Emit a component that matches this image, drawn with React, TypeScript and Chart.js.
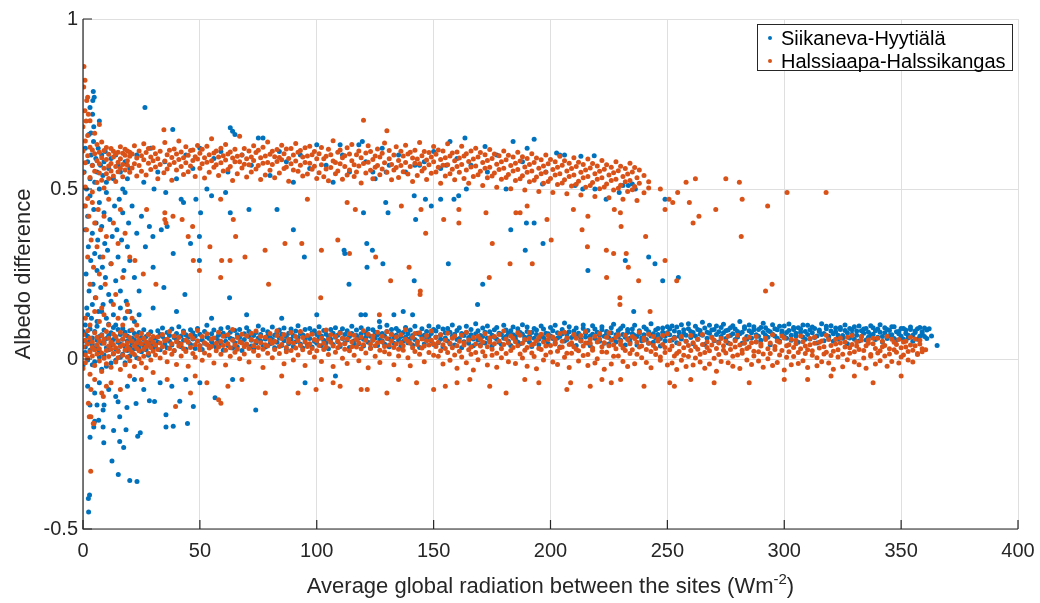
import React, { useEffect, useRef } from 'react';
import Chart from 'chart.js/auto';

// each row: [x, y1, y2, ...] = points sharing one x value
type Row = number[];

const seriesNames = ['Siikaneva-Hyytiälä', 'Halssiaapa-Halssikangas'];
const seriesColors = ['#0072BD', '#D95319'];
const xTicks = [0, 50, 100, 150, 200, 250, 300, 350, 400];
const yTicks = [-0.5, 0, 0.5, 1];
const xTitle = 'Average global radiation between the sites (Wm';
const xTitleSup = '-2';
const yTitle = 'Albedo difference';

// Siikaneva-Hyytiälä, band just above zero
const blueBand: Row[] = [
  [0,.052,-.02,.081],[1,.019,.074,.035],[2,.067,-.003,.048],[3,.059,.026,.088],[4,-.017,.043,.062],[5,.031,.081,-.008],[6,.055,.038,.096],[7,.066,.022,.006],[8,.046,-.03,.071],[9,.051,.012,.085],[10,.06,.033,-.021],[11,.069,.027,.102],[12,.041,-.012,.077],[13,.093,.015,.057],[14,.029,.064,-.004],[15,.049,.087,.024],[16,.044,.072,.005],[17,.014,.058,.09],[18,.037,.079,-.011],[19,.053,.025,.068],[20,.035,.083,.009],[21,.047,.061,.018],[22,.03,.075,.056],[23,.04,.07,.004],[24,.05,.032,.078],[25,.021,.063,.045],[26,.058,.039,.086],[27,.027,.066,.049],[28,.073,.042,.011],[29,.054,.08,.036],[30,.062,.031,.047],
  [31,.061,.038],[32,.083,.049],[33,.072,.027],[34,.066,.091],[35,.044,.057],[36,.078,.033],[37,.069,.052],[38,.088,.041],[39,.063,.024],[40,.075,.058],[41,.047,.095],[42,.036,.068],[43,.055,.082],[44,.029,.071],[45,.05,.064],[46,.086,.043],[47,.059,.077],[48,.031,.067],[49,.053,.09],[50,.039,.073],[51,.056,.028],[52,.081,.046],[53,.065,.099],[54,.037,.06],[55,.074,.051],[56,.042,.085],[57,.062,.034],[58,.07,.054],[59,.089,.045],[60,.076,.026],[61,.067,.052],[62,.093,.04],[63,.061,.079],[64,.032,.058],[65,.084,.048],[66,.071,.036],[67,.063,.087],[68,.05,.025],[69,.074,.057],[70,.092,.043],[71,.066,.081],[72,.038,.055],[73,.069,.03],[74,.078,.047],[75,.062,.097],[76,.053,.072],[77,.041,.086],[78,.059,.035],[79,.068,.08],[80,.045,.064],[81,.057,.094],[82,.033,.07],[83,.079,.049],[84,.062,.085],[85,.04,.073],[86,.091,.054],[87,.028,.066],[88,.076,.045],[89,.058,.088],[90,.037,.069],[91,.082,.051],[92,.063,.098],[93,.044,.075],[94,.071,.032],[95,.056,.087],[96,.067,.042],[97,.09,.06],[98,.035,.077],[99,.052,.083],[100,.072,.046],
  [101,.061,.095],[102,.039,.068],[103,.084,.055],[104,.048,.073],[105,.066,.03],[106,.087,.058],[107,.043,.076],[108,.064,.092],[109,.051,.07],[110,.079,.037],[111,.06,.089],[112,.047,.072],[113,.083,.056],[114,.034,.066],[115,.075,.096],[116,.054,.041],[117,.069,.085],[118,.045,.061],[119,.092,.074],[120,.058,.038],[121,.077,.064],[122,.049,.088],[123,.067,.032],[124,.086,.055],[125,.062,.079],[126,.04,.071],[127,.094,.057],[128,.053,.075],[129,.068,.044],[130,.081,.099],[131,.059,.036],[132,.073,.087],[133,.046,.063],[134,.09,.07],[135,.055,.082],[136,.037,.066],[137,.078,.052],[138,.064,.093],[139,.048,.074],[140,.085,.06],[141,.069,.041],[142,.096,.057],[143,.052,.076],[144,.073,.034],[145,.063,.089],[146,.044,.07],[147,.081,.058],[148,.066,.097],[149,.054,.075],[150,.087,.043],
  [151,.065,.082],[152,.048,.095],[153,.071,.058],[154,.088,.036],[155,.062,.077],[156,.053,.09],[157,.079,.044],[158,.067,.1],[159,.041,.073],[160,.084,.057],[161,.06,.092],[162,.075,.033],[163,.051,.069],[164,.096,.078],[165,.063,.046],[166,.087,.071],[167,.039,.059],[168,.074,.104],[169,.056,.083],[170,.069,.042],[171,.091,.066],[172,.047,.079],[173,.062,.097],[174,.08,.054],[175,.07,.038],[176,.086,.064],[177,.058,.093],[178,.076,.049],[179,.043,.072],[180,.099,.061],[181,.066,.085],[182,.052,.075],[183,.083,.04],[184,.071,.094],[185,.059,.068],[186,.089,.05],[187,.045,.078],[188,.073,.101],[189,.064,.056],[190,.094,.081],[191,.05,.067],[192,.078,.037],[193,.061,.09],[194,.085,.072],[195,.042,.058],[196,.07,.097],[197,.088,.063],[198,.055,.076],[199,.074,.045],[200,.093,.068],
  [201,.06,.083],[202,.048,.099],[203,.077,.062],[204,.066,.035],[205,.087,.074],[206,.053,.106],[207,.072,.057],[208,.095,.08],[209,.063,.044],[210,.082,.069],[211,.04,.091],[212,.069,.076],[213,.058,.053],[214,.09,.1],[215,.076,.065],[216,.047,.084],[217,.068,.039],[218,.098,.073],[219,.061,.088],[220,.079,.055],[221,.052,.07],[222,.086,.095],[223,.067,.046],[224,.074,.081],[225,.044,.063],[226,.092,.077],[227,.059,.102],[228,.071,.05],[229,.083,.066],[230,.055,.09],[231,.097,.072],[232,.064,.041],[233,.078,.087],[234,.05,.061],[235,.088,.075],[236,.069,.099],[237,.041,.066],[238,.075,.083],[239,.062,.054],[240,.094,.071],[241,.057,.088],[242,.08,.046],[243,.068,.104],[244,.049,.074],[245,.085,.062],[246,.072,.09],[247,.06,.038],[248,.091,.079],[249,.053,.067],[250,.077,.095],
  [251,.071,.088],[252,.056,.097],[253,.082,.064],[254,.094,.048],[255,.067,.079],[256,.101,.059],[257,.075,.086],[258,.052,.07],[259,.089,.104],[260,.063,.081],[261,.078,.045],[262,.096,.068],[263,.058,.087],[264,.084,.073],[265,.07,.108],[266,.043,.091],[267,.079,.061],[268,.099,.076],[269,.065,.085],[270,.087,.054],[271,.072,.097],[272,.05,.08],[273,.093,.066],[274,.077,.102],[275,.06,.083],[276,.085,.047],[277,.069,.092],[278,.098,.074],[279,.057,.088],[280,.081,.065],[281,.074,.11],[282,.046,.079],[283,.09,.095],[284,.066,.058],[285,.083,.1],[286,.062,.077],[287,.095,.086],[288,.071,.051],[289,.087,.067],[290,.055,.093],[291,.078,.105],[292,.092,.07],[293,.064,.084],[294,.08,.042],[295,.101,.073],[296,.068,.089],[297,.086,.061],[298,.053,.096],[299,.075,.082],[300,.097,.066],
  [301,.061,.078],[302,.084,.103],[303,.07,.055],[304,.093,.087],[305,.076,.068],[306,.049,.092],[307,.088,.079],[308,.065,.1],[309,.081,.058],[310,.099,.072],[311,.059,.086],[312,.077,.094],[313,.09,.063],[314,.068,.047],[315,.085,.081],[316,.072,.104],[317,.054,.075],[318,.096,.089],[319,.063,.067],[320,.082,.098],[321,.074,.052],[322,.091,.08],[323,.058,.07],[324,.087,.093],[325,.069,.061],[326,.1,.084],[327,.077,.045],[328,.062,.09],[329,.086,.073],[330,.095,.058],[331,.07,.082],[332,.053,.097],[333,.083,.066],[334,.076,.088],[335,.09,.056],[336,.064,.079],[337,.098,.07],[338,.073,.092],[339,.057,.083],[340,.088,.064],[341,.079,.101],[342,.066,.05],[343,.092,.077],[344,.06,.087],[345,.084,.069],[346,.071,.095],[347,.095,.06],[348,.055,.08],[349,.081,.074],[350,.067,.09],[351,.09,.058],[352,.075,.085],[353,.062,.07],[354,.087,.094],[355,.07,.052],[356,.082,.078],[357,.058,.089],[358,.093,.067],[359,.074,.08],[360,.066,.091],[361,.085,.06],[362,.089],[363,.068],[365.4,.04]
];

// Siikaneva-Hyytiälä, band around 0.5-0.65
const blueHigh: Row[] = [
  [0.5,.55],[1,.62],[1.5,.5],[2,.58],[2.5,.66],[3,.53],[3.5,.6],[4,.57],[4.5,.64],[5,.52],[5.5,.59],[6,.55],[6.5,.62],[7,.5],[7.5,.57],[8,.6],[8.5,.54],[9,.58],[9.5,.61],[10,.52],[11,.56],[12,.59],[13,.53],[14,.6],[15,.57],[16,.55],[17,.5],[18,.58],[19,.53],[20,.56],
  [23,.6],[26,.52],[29,.62],[32,.55],[35,.58],[38.4,.675],[40,.53],[44,.6],[47,.56],[50,.62],[53,.5],[56,.59],[59,.61],[62,.55],[63,.68],[64,.67],[65,.66],[68,.6],[72,.57],[75,.65],[77,.65],[80,.54],[84,.61],[87,.58],[90,.52],[93,.6],[97,.56],[100,.63],[104,.57],[107,.52],[110,.63],[111,.6],[114,.55],[118,.63],[119.5,.64],[121,.58],[124,.55],[125,.53],[128,.62],[129.7,.55],[131,.57],[135,.6],[138,.55],[142,.57],[144,.57],[146,.58],[150,.61],[153,.56],[155.4,.57],[157,.64],[160,.59],[163.4,.65],[164,.5],[166,.57],[172,.625],[173,.55],[177,.6],[181,.5],[184,.64],[188,.58],[190,.62],[193,.646],[196.6,.515],[198,.55],[202.6,.606],[204,.6],[206,.6],[210.5,.51],[213,.596],[213.8,.5],[218.7,.598],[219,.5],[223.8,.47],[229.4,.49],[231,.51],[233.3,.51],[235,.515],[236.3,.5]
];

// Siikaneva-Hyytiälä, scattered points between and below the bands
const blueScatter: Row[] = [
  [0.5,.45],[1,.38],[1.3,.25],[1.6,.15],[2,.42],[2.3,.33],[2.6,.2],[3,.48],[3.3,.29],[3.6,.12],[4,.37],[4.3,.22],[4.6,.44],[5,.31],[5.3,.18],[5.6,.4],[6,.26],[6.3,.35],[6.6,.14],[7,.46],[7.3,.3],[7.6,.21],[8,.39],[8.3,.27],[8.6,.16],[9,.43],[9.3,.34],[9.6,.24],[10,.49],[10.5,.32],[11,.19],[11.5,.41],[12,.28],[12.5,.36],[13,.13],[13.5,.45],[14,.23],[14.5,.38],[15,.3],[15.5,.47],[16,.2],[16.5,.35],[17,.43],[17.5,.26],[18,.49],[18.5,.17],[19,.33],[19.5,.4],[20,.29],[21,.45],[22,.24],[23,.37],[24,.2],[25,.42],
  [1,.1],[2,.13],[4,.16],[6,.11],[8,.14],[10,.12],[12,.17],[14,.1],[16,.15],[18,.12],[20,.14],[22,.11],[24,.13],
  [4.4,.787],[4.8,.77],[4.2,.76],[3,.74],[4.1,.72],[7,.7],[4.6,.683],[3.4,.665],[26.5,.74],
  [26.7,.33],[28.4,.39],[29.9,.36],[30,.27],[30.4,.5],[33.5,.38],[34.6,.21],[35.4,.49],[36,.39],[38.6,.31],[42,.47],[43,.46],[43.6,.19],[46,.34],[48.3,.47],[49.8,.36],[49.8,.29],[50.3,.43],[55,.48],[61,.49],[62.7,.18],[63,.43],[71,.44],[83,.44],[90,.38],[94.7,.3],[111.7,.32],[112,.31],[113.8,.22],[120,.43],[121.4,.34],[121.5,.27],[123.8,.32],[128.3,.28],[129.5,.46],[130.5,.43],[141.7,.23],[141.7,.48],[142.3,.41],[146.5,.47],[149,.45],[153,.47],[156.3,.28],[158.7,.47],[160.7,.48],[171,.22],[183,.38],[189.2,.32],[189.7,.4],[193,.4],[196.8,.34],[216,.26],[232,.29],[242,.3],[244.7,.28],[248,.23],[249,.47],[254.7,.24],
  [118.9,.13],[120.8,.13],[126.8,.11],[133,.13],[137,.14],[141,.13],[168.8,.16],[235.6,.14],[30,.15],[40,.14],[55,.12],[70,.13],[85,.12],[100,.13],
  [2.4,-.45],[2.3,-.41],[2.8,-.4],[12.4,-.3],[15.1,-.34],[20,-.357],[23.1,-.36],[17.4,-.26],[15.7,-.243],[8.9,-.246],[3,-.23],[13.1,-.21],[23.4,-.227],[24.5,-.217],[18.4,-.208],[8.6,-.2],[4.6,-.2],[15.7,-.17],[6.7,-.18],[5,-.183],[8.6,-.15],[3,-.135],[6,-.135],[9,-.135],[15,-.126],[18.8,-.143],[22.7,-.131],[28.4,-.123],[30.6,-.125],[35.5,-.164],[35.5,-.2],[38.6,-.198],[44.7,-.19],[41.4,-.124],[47.2,-.14],[56.5,-.114],[73.9,-.15],
  [2,-.08],[5,-.1],[7,-.07],[11,-.09],[14,-.11],[19,-.08],[22,-.06],[26,-.09],[33,-.07],[38,-.08],[44,-.06],[50,-.07],[64,-.06],[95,-.07],[108,-.05]
];

// Halssiaapa-Halssikangas, band just above zero
const orangeBand: Row[] = [
  [0,.036,-.028,.071],[1,.012,.055,-.011],[2,.044,.083,.003],[3,.021,-.045,.062],[4,.05,.009,.034],[5,-.019,.077,.027],[6,.041,.015,.064],[7,-.006,.053,.03],[8,.069,.018,-.037],[9,.046,.002,.058],[10,.025,.081,-.014],[11,.038,.061,.007],[12,-.024,.049,.029],[13,.073,.016,.043],[14,.033,-.009,.066],[15,.054,.022,.004],[16,.079,.037,-.031],[17,.011,.059,.042],[18,.026,-.017,.07],[19,.048,.006,.035],[20,.063,.028,-.005],[21,.019,.052,.085],[22,.039,-.022,.013],[23,.067,.031,.047],[24,.001,.056,.024],[25,.044,.075,-.012],[26,.029,.008,.061],[27,.051,-.026,.037],[28,.072,.017,.045],[29,.034,.058,-.003],[30,.023,.049,.066],
  [31,.041,.012],[32,.065,.028],[33,.003,.047],[34,.036,.072],[35,.019,.054],[36,.058,-.008],[37,.031,.081],[38,.045,.014],[39,.068,.025],[40,-.016,.051],[41,.038,.063],[42,.009,.044],[43,.077,.03],[44,.022,.056],[45,.049,-.021],[46,.034,.07],[47,.061,.016],[48,.005,.042],[49,.053,.084],[50,.027,.039],[51,.066,-.004],[52,.018,.048],[53,.043,.074],[54,.032,.011],[55,.059,.037],[56,-.012,.062],[57,.046,.024],[58,.079,.035],[59,.014,.052],[60,.04,.067],[61,.026,-.018],[62,.071,.045],[63,.033,.008],[64,.055,.087],[65,.02,.041],[66,.063,.029],[67,.001,.05],[68,.047,.073],[69,.036,.015],[70,.068,.044],[71,-.009,.031],[72,.057,.076],[73,.023,.039],[74,.082,.053],[75,.01,.034],[76,.048,.066],[77,.029,-.025],[78,.064,.042],[79,.038,.017],[80,.075,.055],[81,.004,.046],[82,.052,.028],[83,.069,.083],[84,.016,.037],[85,.043,.06],[86,-.014,.072],[87,.034,.021],[88,.058,.049],[89,.025,.078],[90,.047,-.003],[91,.066,.032],[92,.012,.054],[93,.081,.04],[94,.027,.063],[95,.05,-.019],[96,.037,.069],[97,.019,.045],[98,.073,.031],[99,.006,.057],[100,.054,.024],
  [101,.04,.077],[102,.062,-.007],[103,.028,.046],[104,.085,.035],[105,.013,.058],[106,.049,.071],[107,-.022,.038],[108,.066,.02],[109,.033,.052],[110,.076,.043],[111,.002,.061],[112,.045,.029],[113,.059,-.013],[114,.024,.074],[115,.051,.036],[116,.07,.011],[117,.035,.057],[118,-.005,.047],[119,.064,.03],[120,.042,.083],[121,.018,.055],[122,.073,-.026],[123,.031,.044],[124,.056,.068],[125,.008,.039],[126,.048,.079],[127,.026,-.01],[128,.067,.05],[129,.037,.021],[130,.08,.06],[131,.015,.041],[132,.053,.072],[133,-.017,.034],[134,.044,.065],[135,.029,.009],[136,.071,.048],[137,.039,.026],[138,.058,.086],[139,.004,.052],[140,.046,-.02],[141,.063,.033],[142,.022,.075],[143,.05,.043],[144,.077,.014],[145,.032,.059],[146,-.008,.038],[147,.069,.054],[148,.041,.019],[149,.055,.082],[150,.011,.045],
  [151,.037,.063],[152,.008,.049],[153,.071,.024],[154,-.015,.042],[155,.055,.031],[156,.019,.076],[157,.046,-.004],[158,.033,.061],[159,.068,.012],[160,-.027,.039],[161,.052,.023],[162,.006,.07],[163,.041,.048],[164,.079,-.011],[165,.027,.056],[166,.014,.035],[167,.063,-.032],[168,.044,.019],[169,-.002,.067],[170,.058,.038],[171,.021,.05],[172,.074,.009],[173,.036,-.018],[174,.049,.062],[175,.011,.029],[176,.066,.045],[177,-.024,.017],[178,.053,.072],[179,.03,.004],[180,.082,.043],[181,.016,.059],[182,.047,-.008],[183,.025,.068],[184,.061,.034],[185,-.013,.051],[186,.039,.077],[187,.07,.015],[188,.003,.046],[189,.057,.026],[190,.034,-.021],[191,.078,.06],[192,.018,.041],[193,.045,.007],[194,-.029,.054],[195,.064,.031],[196,.028,.073],[197,.05,-.003],[198,.012,.038],[199,.069,.057],[200,.04,.02],
  [201,-.009,.065],[202,.056,.044],[203,.023,-.016],[204,.075,.033],[205,.035,.052],[206,.005,.079],[207,.062,.017],[208,.043,-.025],[209,.017,.048],[210,.072,.036],[211,.029,.061],[212,-.006,.024],[213,.054,.069],[214,.038,.01],[215,.081,.047],[216,.013,-.019],[217,.046,.058],[218,.026,.032],[219,.067,-.012],[220,.001,.05],[221,.059,.075],[222,.036,.021],[223,.048,-.03],[224,.02,.064],[225,.077,.039],[226,-.015,.055],[227,.041,.008],[228,.063,.03],[229,.009,.071],[230,.052,.043],[231,.032,-.007],[232,.07,.025],[233,-.022,.057],[234,.045,.016],[235,.027,.066],[236,.06,-.014],[237,.014,.049],[238,.079,.035],[239,.038,.004],[240,.055,.062],[241,-.01,.028],[242,.047,.073],[243,.022,-.026],[244,.066,.04],[245,.031,.013],[246,.058,.053],[247,.006,-.004],[248,.043,.069],[249,.019,.034],[250,.074,-.018],
  [251,.027,.054],[252,-.012,.038],[253,.061,.009],[254,.016,-.031],[255,.045,.022],[256,-.004,.066],[257,.033,.011],[258,.052,-.022],[259,.007,.04],[260,.069,.025],[261,-.018,.048],[262,.036,.003],[263,.058,.029],[264,.014,-.009],[265,.043,.072],[266,-.027,.019],[267,.05,.034],[268,.024,-.015],[269,.063,.041],[270,.002,.055],[271,.031,-.036],[272,.047,.013],[273,-.007,.06],[274,.039,.026],[275,.018,.052],[276,.067,-.011],[277,.028,.044],[278,-.021,.008],[279,.054,.035],[280,.012,.07],[281,.041,-.028],[282,.026,.017],[283,.059,.046],[284,-.003,.031],[285,.035,.064],[286,.048,-.016],[287,.009,.023],[288,.066,.05],[289,.021,-.006],[290,.044,.038],[291,-.024,.015],[292,.057,.061],[293,.03,.001],[294,.016,.047],[295,.071,-.019],[296,.037,.028],[297,-.01,.053],[298,.049,.012],[299,.025,.068],[300,.062,-.032],
  [301,.005,.039],[302,.042,.021],[303,-.017,.058],[304,.034,.007],[305,.055,.045],[306,.019,-.013],[307,.068,.03],[308,-.005,.051],[309,.038,.016],[310,.027,-.025],[311,.06,.042],[312,.011,.024],[313,.046,.065],[314,-.02,.004],[315,.032,.049],[316,.053,-.008],[317,.015,.036],[318,.07,.02],[319,-.012,.057],[320,.04,.01],[321,.023,-.03],[322,.058,.044],[323,.006,.027],[324,.047,.062],[325,-.023,.014],[326,.035,.05],[327,.064,-.002],[328,.017,.033],[329,.043,.069],[330,-.009,.021],[331,.051,.038],[332,.028,-.017],[333,.066,.055],[334,.003,.025],[335,.039,-.027],[336,.056,.046],[337,.013,.008],[338,.045,.061],[339,-.015,.031],[340,.061,.018],[341,.024,-.005],[342,.036,.052],[343,.009,.04],[344,.067,-.021],[345,.03,.015],[346,-.007,.058],[347,.049,.027],[348,.02,.043],[349,.057,-.012],[350,.033,.006],[351,.012,.05],[352,.052,.035],[353,-.003,.022],[354,.041,.064],[355,.026,-.009],[356,.059,.039],[357,.016,.013],[358,.044,.055],[359,.03,.021],[360.5,.027]
];

// Halssiaapa-Halssikangas, band around 0.5-0.65
const orangeHigh: Row[] = [
  [0,.612,.548,.683],[1,.577,.506,.641],[2,.598,.472,.657],[3,.534,.623,.701],[4,.569,.491,.615],[5,.604,.552,.664],[6,.583,.519,.631],[7,.547,.608,.574],[8,.592,.526,.638],[9,.561,.613,.503],[10,.587,.545,.622],[11,.602,.568,.531],[12,.575,.619,.553],[13,.594,.538,.611],[14,.566,.603,.522],[15,.608,.579,.551],[16,.589,.624,.561],[17,.572,.605,.536],[18,.599,.556,.617],[19,.583,.612,.57],[20,.596,.549,.608],
  [21,.603,.562],[22,.574,.627],[23,.591,.538],[24,.612,.569],[25,.552,.598],[26,.586,.633],[27,.607,.541],[28,.576,.619],[29,.594,.557],[30,.621,.583],[31,.565,.604],[32,.589,.53],[33,.611,.572],[34.6,.548,.674],[35,.582,.637],[36,.601,.559],[37,.571,.614],[38,.593,.526],[39,.618,.578],[40,.556,.603],[41,.587,.641],[42,.609,.566],[43,.543,.592],[44,.577,.624],[45,.599,.551],[46,.568,.613],[47,.615,.584],[48,.537,.595],[49,.588,.628],[50,.605,.561],[51,.574,.617],[52,.592,.532],[53,.626,.579],[54,.549,.601],[55,.583,.648],[56,.606,.564],[57,.571,.612],[58,.594,.54],[59,.62,.577],[60,.553,.598],[61,.585,.631],[62,.603,.557],[63,.566,.609],[64,.591,.525],[65,.617,.58],[66,.545,.596],[67,.58,.655],[68,.6,.562],[69,.573,.619],[70,.589,.535],[71,.612,.571],[72,.55,.594],[73,.584,.627],[74,.607,.559],[75,.569,.614],[76,.592,.528],[77,.623,.576],[78,.541,.597],[79,.578,.638],[80,.602,.555],[81,.572,.611],[82,.595,.533],[83,.616,.581],[84,.547,.593],[85,.586,.629],[86,.604,.56],[87,.565,.618],[88,.59,.523],[89,.619,.574],[90,.556,.6],[91,.582,.634],[92,.608,.552],[93,.57,.613],[94,.594,.538],[95,.621,.578],[96,.544,.597],[97,.576,.626],[98,.601,.558],[99,.567,.61],[100,.589,.531],
  [101,.604,.548],[102,.571,.622],[103,.536,.589],[104,.596,.559],[105,.617,.524],[106,.563,.601],[107,.582,.642],[108,.545,.578],[109,.608,.553],[110,.574,.615],[111,.529,.592],[112,.598,.566],[113,.621,.541],[114,.556,.603],[115,.583,.631],[116,.537,.571],[117,.601,.55],[118,.568,.612],[119,.592,.518],[120,.702,.575],[121,.547,.606],[122,.579,.627],[123,.61,.555],[124,.53,.587],[125,.597,.564],[126,.569,.618],[127,.542,.594],[128,.605,.559],[129,.577,.635],[130,.671,.549],[131,.589,.613],[132,.527,.572],[133,.6,.556],[134,.563,.624],[135,.584,.534],[136,.611,.569],[137,.551,.597],[138,.578,.629],[139,.603,.544],[140,.566,.608],[141,.591,.522],[142,.614,.576],[143,.54,.588],[144,.574,.637],[145,.598,.553],[146,.561,.61],[147,.585,.528],[148,.607,.571],[149,.546,.594],[150,.58,.625],[151,.602,.55],[152,.564,.615],[153,.587,.517],[154,.612,.57],[155,.538,.592],[156,.571,.633],[157,.597,.545],[158,.558,.606],[159,.583,.527],[160,.609,.566],
  [161,.549,.591],[162,.572,.626],[163,.597,.531],[164,.556,.604],[165,.581,.517],[166,.612,.565],[167,.537,.588],[168,.568,.62],[169,.594,.542],[170,.552,.607],[171,.578,.51],[172,.601,.561],[173,.533,.584],[174,.564,.616],[175,.59,.538],[176,.547,.603],[177,.573,.505],[178,.598,.557],[179,.529,.58],[180,.561,.612],[181,.586,.534],[182,.543,.599],[183,.569,.501],[184,.594,.553],[185,.525,.576],[186,.557,.608],[187,.582,.53],[188,.539,.595],[189,.565,.497],[190,.59,.549],[191,.521,.572],[192,.553,.604],[193,.578,.526],[194,.535,.591],[195,.561,.493],[196,.586,.545],[197,.517,.568],[198,.549,.6],[199,.574,.522],[200,.531,.587],
  [201,.557,.49],[202,.58,.541],[203,.513,.564],[204,.545,.596],[205,.57,.518],[206,.527,.583],[207,.553,.486],[208,.576,.537],[209,.509,.56],[210,.541,.592],[211,.566,.514],[212,.523,.579],[213,.549,.482],[214,.572,.533],[215,.505,.556],[216,.537,.588],[217,.562,.51],[218,.519,.575],[219,.545,.478],[220,.568,.529],[221,.501,.552],[222,.533,.584],[223,.558,.506],[224,.515,.571],[225,.541,.474],[226,.564,.525],[227,.497,.548],[228,.529,.58],[229,.554,.502],[230,.511,.567],[231,.537,.47],[232,.56,.521],[233,.493,.544],[234,.525,.576],[235,.55,.498],[236,.507,.563],[237,.533,.466],[238,.556,.517],[240,.489,.54],[242,.521,.503],
  [247,.5],[249,.44],[250.7,.47],[252.3,.46],[254.4,.49],[258,.52],[259.4,.46],[262,.53],[270.7,.44],[275,.53],[280.8,.52],[282,.47],[292.9,.45],[301.2,.49],[317.9,.49]
];

// Halssiaapa-Halssikangas, scattered points between and below the bands
const orangeScatter: Row[] = [
  [0.4,.86],[0.85,.82],[0.3,.8],[1.6,.76],[2,.77],[0.85,.73],[1.3,.7],[2.3,.72],[7,.69],
  [1,.45],[1.5,.38],[2,.3],[2.5,.42],[3,.22],[3.5,.35],[4,.46],[4.5,.27],[5,.4],[5.5,.18],[6,.33],[6.5,.44],[7,.25],[7.5,.38],[8,.15],[8.5,.3],[9,.42],[9.5,.22],[10,.36],[11,.47],[12,.28],[13,.4],[14,.19],[15,.34],[16,.44],[17,.24],[18,.37],[19,.16],[20,.3],
  [1,.12],[3,.1],[5,.14],[7,.11],[9,.13],[11,.1],[13,.16],[15,.12],[17,.1],[19,.14],[21,.12],[23,.1],
  [22.2,.29],[25.8,.25],[27.2,.44],[31.2,.22],[35,.43],[35,.41],[35.5,.4],[38.5,.42],[42.4,.41],[45,.36],[46.9,.39],[47.2,.29],[49.8,.26],[54.3,.33],[58.9,.47],[58.9,.24],[59.3,.29],[62.9,.29],[64.3,.41],[65.3,.36],[69.3,.3],[77.9,.32],[79.4,.22],[86.4,.34],[93.6,.34],[96,.47],[101.7,.18],[102,.32],[109,.35],[113,.46],[114,.31],[116.5,.44],[125.2,.3],[131.6,.23],[136.2,.45],[139.5,.27],[144.3,.2],[144.6,.44],[146.6,.37],[154.3,.41],[160.8,.44],[160.8,.4],[172.4,.43],[173.8,.24],[175.1,.34],[182.7,.28],[185.2,.43],[187,.43],[190,.45],[192.2,.28],[198.5,.41],[200.3,.35],[209.8,.44],[213.5,.38],[216,.42],[215.8,.33],[223.9,.32],[224,.24],[227,.31],[227.3,.44],[229.7,.18],[229.7,.16],[229.9,.43],[230.2,.39],[232.4,.31],[233.3,.27],[237.7,.23],[240.7,.36],[242.6,.14],[249,.29],[254,.23],[261,.4],[263.5,.42],[281.6,.36],[292,.2],[294.8,.22],[126.8,.13],[144.2,.19],
  [3.3,-.33],[2.3,-.13],[2.7,-.17],[3.4,-.17],[4.7,-.19],[4.4,-.19],[8.7,-.11],[8,-.1],[3.4,-.09],[10,-.08],[39.6,-.14],[46,-.1],[53,-.07],[58,-.12],[59,-.13],[62,-.08],[78,-.1],[92,-.1],[99.7,-.09],[107,-.07],[110,-.08],[119,-.09],[121.6,-.09],[130,-.1],[142.7,-.07],[150,-.09],[155,-.08],[165.5,-.06],[174,-.08],[181,-.1],[189,-.06],[207,-.09],[208.6,-.07],[217,-.08],[226,-.07],[230,-.06],[240,-.08],[251,-.07],[253,-.08],[270,-.07],[285,-.07],[300,-.06],[320,-.05],[338,-.07],
  [5,-.06],[12,-.07],[16,-.09],[20,-.05],[25,-.06],[30,-.04],[36,-.06],[48,-.05],[68,-.06],[85,-.05],[102,-.06],[135,-.06],[160,-.07],[195,-.07],[222,-.06],[260,-.06],[310,-.06],[330,-.05],[350,-.05]
];

const toXY = (rows: Row[]) => rows.flatMap(([x, ...ys]) => ys.map((y) => ({ x, y })));

const FONT = '"Liberation Sans", Arial, Helvetica, sans-serif';
const AXIS = '#262626';

const matlabAxes = {
  id: 'matlabAxes',
  afterDatasetsDraw(chart: any) {
    const { ctx, chartArea: a, scales } = chart;
    ctx.save();
    ctx.strokeStyle = AXIS;
    ctx.lineWidth = 1.2;
    ctx.beginPath();
    ctx.moveTo(a.left, a.top);
    ctx.lineTo(a.left, a.bottom);
    ctx.lineTo(a.right, a.bottom);
    ctx.stroke();
    ctx.beginPath();
    xTicks.forEach((t) => {
      const px = scales.x.getPixelForValue(t);
      ctx.moveTo(px, a.bottom);
      ctx.lineTo(px, a.bottom - 9);
    });
    yTicks.forEach((t) => {
      const py = scales.y.getPixelForValue(t);
      ctx.moveTo(a.left, py);
      ctx.lineTo(a.left + 9, py);
    });
    ctx.stroke();
    ctx.restore();
  },
  afterDraw(chart: any) {
    const { ctx, chartArea: a } = chart;
    ctx.save();
    // axis titles
    ctx.fillStyle = AXIS;
    ctx.textBaseline = 'alphabetic';
    ctx.font = `22px ${FONT}`;
    const mainW = ctx.measureText(xTitle).width;
    const closeW = ctx.measureText(')').width;
    ctx.font = `15px ${FONT}`;
    const supW = ctx.measureText(xTitleSup).width;
    const x0 = (a.left + a.right) / 2 - (mainW + supW + closeW) / 2;
    const base = 593;
    ctx.textAlign = 'left';
    ctx.font = `22px ${FONT}`;
    ctx.fillText(xTitle, x0, base);
    ctx.fillText(')', x0 + mainW + supW, base);
    ctx.font = `15px ${FONT}`;
    ctx.fillText(xTitleSup, x0 + mainW, base - 9);

    ctx.font = `22px ${FONT}`;
    ctx.translate(30, (a.top + a.bottom) / 2);
    ctx.rotate(-Math.PI / 2);
    ctx.textAlign = 'center';
    ctx.fillText(yTitle, 0, 0);
    ctx.restore();

    // legend
    ctx.save();
    const lx = 757, ly = 24, lw = 255, lh = 46;
    ctx.fillStyle = '#ffffff';
    ctx.fillRect(lx, ly, lw, lh);
    ctx.strokeStyle = AXIS;
    ctx.lineWidth = 1;
    ctx.strokeRect(lx + 0.5, ly + 0.5, lw, lh);
    ctx.font = `20px ${FONT}`;
    ctx.textBaseline = 'middle';
    ctx.textAlign = 'left';
    seriesNames.forEach((name, i) => {
      const cy = ly + 14 + i * 23;
      ctx.fillStyle = seriesColors[i];
      ctx.beginPath();
      ctx.arc(770, cy, 2, 0, Math.PI * 2);
      ctx.fill();
      ctx.fillStyle = '#000000';
      ctx.fillText(name, 781, cy + 1);
    });
    ctx.restore();
  },
};

export default function App() {
  const canvasRef = useRef<HTMLCanvasElement>(null);
  const chartRef = useRef<Chart | null>(null);

  useEffect(() => {
    document.body.style.margin = '0';
    if (!canvasRef.current) return;
    if (chartRef.current) chartRef.current.destroy();

    chartRef.current = new Chart(canvasRef.current, {
      type: 'scatter',
      data: {
        datasets: [
          {
            label: seriesNames[0],
            data: toXY([...blueBand, ...blueHigh, ...blueScatter]),
            backgroundColor: seriesColors[0],
            borderWidth: 0,
            pointRadius: 2.5,
            order: 1,
          },
          {
            label: seriesNames[1],
            data: toXY([...orangeBand, ...orangeHigh, ...orangeScatter]),
            backgroundColor: seriesColors[1],
            borderWidth: 0,
            pointRadius: 2.5,
            order: 0,
          },
        ],
      },
      options: {
        responsive: false,
        animation: false,
        layout: { padding: { left: 0, right: 22, top: 19, bottom: 0 } },
        plugins: { legend: { display: false }, tooltip: { enabled: false } },
        scales: {
          x: {
            type: 'linear',
            min: 0,
            max: 400,
            afterFit: (s: any) => { s.height = 74; s.paddingLeft = 0; s.paddingRight = 0; },
            afterBuildTicks: (s: any) => { s.ticks = xTicks.map((v) => ({ value: v })); },
            ticks: { color: AXIS, font: { family: FONT, size: 20 }, padding: 10, maxRotation: 0, callback: (v: any) => String(v) },
            grid: { color: '#dfdfdf', drawTicks: false, lineWidth: 1 },
            border: { display: false },
          },
          y: {
            type: 'linear',
            min: -0.5,
            max: 1,
            afterFit: (s: any) => { s.width = 83; s.paddingTop = 0; s.paddingBottom = 0; },
            afterBuildTicks: (s: any) => { s.ticks = yTicks.map((v) => ({ value: v })); },
            ticks: { color: AXIS, font: { family: FONT, size: 20 }, padding: 5, callback: (v: any) => String(v) },
            grid: { color: '#dfdfdf', drawTicks: false, lineWidth: 1 },
            border: { display: false },
          },
        },
      },
      plugins: [matlabAxes],
    });

    return () => {
      if (chartRef.current) {
        chartRef.current.destroy();
        chartRef.current = null;
      }
    };
  }, []);

  return (
    <div style={{ width: 1040, height: 603, background: '#fff' }}>
      <canvas ref={canvasRef} width={1040} height={603} style={{ width: 1040, height: 603 }} />
    </div>
  );
}
